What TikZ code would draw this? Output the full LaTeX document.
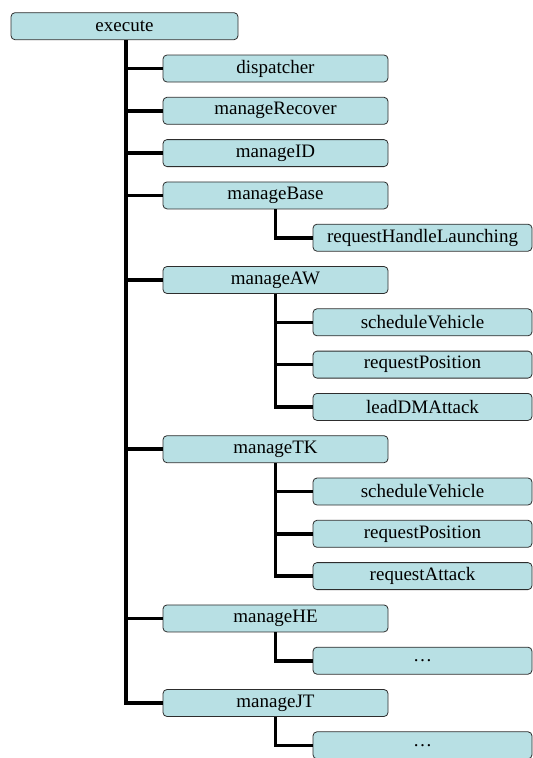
\documentclass[tikz,border=0pt]{standalone}
\usepackage{fontspec}
\setmainfont{Liberation Serif}
\newfontfamily\boxfont{Liberation Serif}
\definecolor{boxfill}{RGB}{184,224,228}
\definecolor{boxline}{RGB}{45,45,45}
\begin{document}
\begin{tikzpicture}[x=1pt,y=-1pt,
  box/.style={draw=boxline, fill=boxfill, line width=0.8pt, rounded corners=4pt,
    minimum height=27pt, inner sep=0pt, font=\boxfont\fontsize{19}{22}\selectfont},
  topbox/.style={box, minimum width=227pt},
  lvlone/.style={box, minimum width=225pt},
  lvltwo/.style={box, minimum width=219pt},
  link/.style={line width=3.6pt, black}]
\useasboundingbox (0,0) rectangle (533,758);
\clip (0,0) rectangle (533,758);
\def\rowy#1{26.2+42.3*#1}
% root
\node[topbox] (exe) at (124.5,{\rowy{0}}) {execute};
% first level
\node[lvlone] (disp) at (275.5,{\rowy{1}}) {dispatcher};
\node[lvlone] (mrec) at (275.5,{\rowy{2}}) {manageRecover};
\node[lvlone] (mid)  at (275.5,{\rowy{3}}) {manageID};
\node[lvlone] (mbase) at (275.5,{\rowy{4}}) {manageBase};
\node[lvlone] (maw)  at (275.5,{\rowy{6}}) {manageAW};
\node[lvlone] (mtk)  at (275.5,{\rowy{10}}) {manageTK};
\node[lvlone] (mhe)  at (275.5,{\rowy{14}}) {manageHE};
\node[lvlone] (mjt)  at (275.5,{\rowy{16}}) {manageJT};
% second level
\node[lvltwo] (rhl)  at (422.5,{\rowy{5}}) {requestHandleLaunching};
\node[lvltwo] (awsv) at (422.5,{\rowy{7}}) {scheduleVehicle};
\node[lvltwo] (awrp) at (422.5,{\rowy{8}}) {requestPosition};
\node[lvltwo] (awla) at (422.5,{\rowy{9}}) {leadDMAttack};
\node[lvltwo] (tksv) at (422.5,{\rowy{11}}) {scheduleVehicle};
\node[lvltwo] (tkrp) at (422.5,{\rowy{12}}) {requestPosition};
\node[lvltwo] (tkra) at (422.5,{\rowy{13}}) {requestAttack};
\node[lvltwo] (hedots) at (422.5,{\rowy{15}}) {\dots};
\node[lvltwo] (jtdots) at (422.5,{\rowy{17}}) {\dots};
% connectors from the trunk and the sub-trunks
\foreach \c in {disp,mrec,mid,mbase,maw,mtk,mhe,mjt}
  \draw[link] ([xshift=1.5pt]exe.south) |- (\c.west);
\draw[link] (mbase.south) |- (rhl.west);
\foreach \c in {awsv,awrp,awla} \draw[link] (maw.south) |- (\c.west);
\foreach \c in {tksv,tkrp,tkra} \draw[link] (mtk.south) |- (\c.west);
\draw[link] (mhe.south) |- (hedots.west);
\draw[link] (mjt.south) |- (jtdots.west);
\end{tikzpicture}
\end{document}
